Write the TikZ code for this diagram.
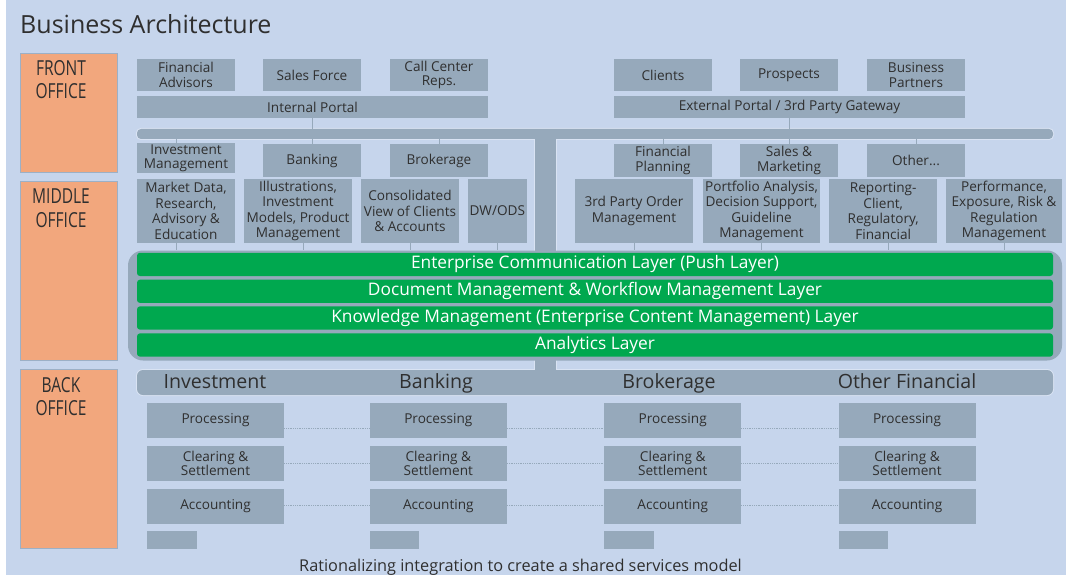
\documentclass[tikz,border=0pt]{standalone}
\usepackage{fontspec}
\setmainfont{Open Sans}
\newfontfamily\condfont[FakeStretch=0.75]{Open Sans}
\definecolor{paper}{HTML}{C6D5EC}
\definecolor{slate}{HTML}{96A9BB}
\definecolor{halo}{HTML}{D9E3F3}
\definecolor{peach}{HTML}{F2A77D}
\definecolor{peachedge}{HTML}{9CB0C6}
\definecolor{layergreen}{HTML}{00A84F}
\definecolor{ink}{HTML}{2F2F2F}

\begin{document}
\begin{tikzpicture}[x=1pt,y=-1pt,
  unitbox/.style={fill=slate,text=ink,align=center,inner sep=0pt,font=\fontsize{13.6}{14.6}\selectfont},
  front/.style={unitbox,minimum width=98,minimum height=32},
  channel/.style={unitbox,minimum width=98,minimum height=33},
  service/.style={unitbox,minimum height=64,font=\fontsize{13.6}{15.6}\selectfont},
  backbox/.style={unitbox,minimum width=137,minimum height=35},
  morebox/.style={fill=slate,inner sep=0pt,minimum width=49.5,minimum height=18},
  office/.style={fill=peach,draw=peachedge,line width=1pt,minimum width=97,inner sep=0pt},
  officetext/.style={anchor=north,align=center,inner sep=0pt,text=ink,font=\condfont\fontsize{20.7}{23.2}\selectfont},
  busbar/.style={fill=slate,inner sep=0pt,minimum width=916,preaction={draw=halo,line width=2pt}},
  greenlayer/.style={fill=layergreen,rounded corners=3pt,text=white,inner sep=0pt,minimum width=916,minimum height=23.3,font=\fontsize{17.3}{20}\selectfont},
  unitlabel/.style={anchor=base,inner sep=0pt,text=ink,font=\fontsize{19.6}{22}\selectfont},
  link/.style={draw=slate,line width=1pt},
  shared/.style={draw=slate,densely dotted,line width=0.8pt}]
\useasboundingbox (0,0) rectangle (1073,575);
\fill[paper] (6,0) rectangle (1066,575);
\node[anchor=base west,inner sep=0pt,text=ink,font=\fontsize{25}{30}\selectfont] (title) at (20,33.3) {Business Architecture};

% office columns
\node[office,minimum height=119] (frontoff) at (69,113) {};
\node[office,minimum height=179] (middleoff) at (69,271) {};
\node[office,minimum height=179] (backoff) at (69,459) {};
\node[officetext] (frontlbl) at (61,60) {FRONT\\OFFICE};
\node[officetext] (middlelbl) at (61,189) {MIDDLE\\OFFICE};
\node[officetext] (backlbl) at (61,377.5) {BACK\\OFFICE};

% front office
\node[front] (advisors) at (186,75) {Financial\\Advisors};
\node[front] (salesforce) at (312,75) {Sales Force};
\node[front] (callcenter) at (439,75) {Call Center\\Reps.};
\node[unitbox,minimum width=351,minimum height=22] (intportal) at (312.5,107) {Internal Portal};
\node[front] (clients) at (663,75) {Clients};
\node[front] (prospects) at (789,75) {Prospects};
\node[front] (partners) at (916,75) {Business\\Partners};
\node[unitbox,minimum width=351,minimum height=22] (extportal) at (789.5,107) {External Portal / 3rd Party Gateway};

% bus, trunk and back office bar
\node[busbar,rounded corners=4pt,minimum height=10] (bus) at (595,134) {};
\node[busbar,rounded corners=6pt,minimum height=25] (backbar) at (595,382.5) {};
\coordinate (stem) at (545.5,134);
\draw[halo,line width=1pt] (534.5,139) -- (534.5,370) (556.5,139) -- (556.5,370);
\draw[slate,line width=21pt] (stem) -- (stem |- backbar.center);
\draw[link] (intportal.south) -- (intportal.south |- bus.north);
\draw[link] (extportal.south) -- (extportal.south |- bus.north);

% middle office
\node[channel,minimum height=30] (invmgmt) at (186,158.3) {Investment\\Management};
\node[channel] (banking) at (312,160.5) {Banking};
\node[channel] (brokerage) at (439,160.5) {Brokerage};
\node[channel] (planning) at (663,160.5) {Financial\\Planning};
\node[channel] (marketing) at (789,160.5) {Sales \&\\Marketing};
\node[channel] (other) at (916,160.5) {Other...};
\draw[link] ([xshift=-10pt]invmgmt.north) -- ([xshift=-10pt]invmgmt.north |- bus.south);
\draw[link] (banking.north) -- (banking.north |- bus.south);
\draw[link] (brokerage.north) -- (brokerage.north |- bus.south);
\draw[link] (planning.north) -- (planning.north |- bus.south);
\draw[link] (marketing.north) -- (marketing.north |- bus.south);
\draw[link] (other.north) -- (other.north |- bus.south);

\node[service,minimum width=98] (marketdata) at (186,211) {Market Data,\\Research,\\Advisory \&\\Education};
\node[service,minimum width=108] (illustr) at (298,211) {Illustrations,\\Investment\\Models, Product\\Management};
\node[service,minimum width=98] (consol) at (410,211) {Consolidated\\View of Clients\\\& Accounts};
\node[service,minimum width=59] (dwods) at (497.3,211) {DW/ODS};
\node[service,minimum width=118] (orders) at (634,211) {3rd Party Order\\Management};
\node[service,minimum width=117] (portfolio) at (761.5,211) {Portfolio Analysis,\\Decision Support,\\Guideline\\Management};
\node[service,minimum width=108] (reporting) at (883.2,211) {Reporting-\\Client,\\Regulatory,\\Financial};
\node[service,minimum width=116] (perform) at (1004,211) {Performance,\\Exposure, Risk \&\\Regulation\\Management};

\node[fill=slate,rounded corners=15pt,inner sep=0pt,minimum width=934,minimum height=110] (platform) at (595,305.5) {};
\draw[link] ([xshift=-10pt]marketdata.south) -- ([xshift=-10pt]marketdata.south |- platform.north);
\draw[link] ([xshift=5pt]illustr.south) -- ([xshift=5pt]illustr.south |- platform.north);
\draw[link] (consol.south) -- (consol.south |- platform.north);
\draw[link] (dwods.south) -- (dwods.south |- platform.north);
\draw[link] (orders.south) -- (orders.south |- platform.north);
\draw[link] (portfolio.south) -- (portfolio.south |- platform.north);
\draw[link] ([xshift=5pt]reporting.south) -- ([xshift=5pt]reporting.south |- platform.north);
\draw[link] (perform.south) -- (perform.south |- platform.north);

\node[greenlayer] (push) at (595,264.4) {Enterprise Communication Layer (Push Layer)};
\node[greenlayer] (docflow) at (595,291.3) {Document Management \& Workflow Management Layer};
\node[greenlayer] (knowledge) at (595,318) {Knowledge Management (Enterprise Content Management) Layer};
\node[greenlayer] (analytics) at (595,345) {Analytics Layer};

% back office
\node[unitlabel] (invlbl) at (215,388) {Investment};
\node[unitlabel] (banklbl) at (436,388) {Banking};
\node[unitlabel] (broklbl) at (669,388) {Brokerage};
\node[unitlabel] (othlbl) at (907,388) {Other Financial};

\node[backbox] (invproc) at (215.5,420.2) {Processing};
\node[backbox] (invclear) at (215.5,463.3) {Clearing \&\\Settlement};
\node[backbox] (invacct) at (215.5,506.5) {Accounting};
\node[morebox] (invmore) at (171.8,540) {};
\node[backbox] (bankproc) at (438.3,420.2) {Processing};
\node[backbox] (bankclear) at (438.3,463.3) {Clearing \&\\Settlement};
\node[backbox] (bankacct) at (438.3,506.5) {Accounting};
\node[morebox] (bankmore) at (394.5,540) {};
\node[backbox] (brokproc) at (672.7,420.2) {Processing};
\node[backbox] (brokclear) at (672.7,463.3) {Clearing \&\\Settlement};
\node[backbox] (brokacct) at (672.7,506.5) {Accounting};
\node[morebox] (brokmore) at (629,540) {};
\node[backbox] (othproc) at (907,420.2) {Processing};
\node[backbox] (othclear) at (907,463.3) {Clearing \&\\Settlement};
\node[backbox] (othacct) at (907,506.5) {Accounting};
\node[morebox] (othmore) at (863.3,540) {};

\draw[shared] ([yshift=-8pt]invproc.east) -- ([yshift=-8pt]bankproc.west);
\draw[shared] ([yshift=-8pt]bankproc.east) -- ([yshift=-8pt]brokproc.west);
\draw[shared] ([yshift=-8pt]brokproc.east) -- ([yshift=-8pt]othproc.west);
\draw[shared] (invclear.east) -- (bankclear.west);
\draw[shared] (bankclear.east) -- (brokclear.west);
\draw[shared] (brokclear.east) -- (othclear.west);
\draw[shared] ([yshift=1.5pt]invacct.east) -- ([yshift=1.5pt]bankacct.west);
\draw[shared] ([yshift=1.5pt]bankacct.east) -- ([yshift=1.5pt]brokacct.west);
\draw[shared] ([yshift=1.5pt]brokacct.east) -- ([yshift=1.5pt]othacct.west);

\node[anchor=base,inner sep=0pt,text=ink,font=\fontsize{16.3}{19}\selectfont] (caption) at (520.5,571.5) {Rationalizing integration to create a shared services model};
\end{tikzpicture}
\end{document}
